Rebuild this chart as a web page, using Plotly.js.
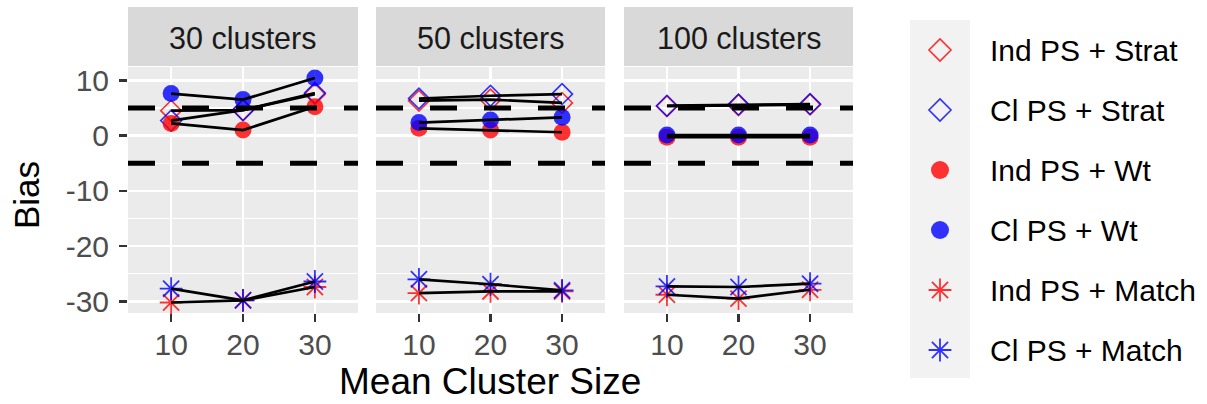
<!DOCTYPE html>
<html>
<head>
<meta charset="utf-8">
<script src="https://cdn.plot.ly/plotly-3.0.1.min.js"></script>
<style>html,body{margin:0;padding:0;background:#fff;}#chart{width:1207px;height:404px;}</style>
</head>
<body>
<div id="chart"></div>
<script>
// ---- data ----
const clusterSizes = ['10', '20', '30'];
const panelLabels = ['30 clusters', '50 clusters', '100 clusters'];
const seriesNames = ['Ind PS + Strat', 'Cl PS + Strat', 'Ind PS + Wt', 'Cl PS + Wt', 'Ind PS + Match', 'Cl PS + Match'];
// one row per panel (30, 50, 100 clusters), values at mean cluster size 10, 20, 30
const indPsStrat = [[4.5, 4.6, 7.5], [6.3, 6.5, 5.9], [5.3, 5.5, 5.6]];
const clPsStrat  = [[2.7, 4.6, 7.7], [6.7, 7.2, 7.5], [5.4, 5.6, 5.7]];
const indPsWt    = [[2.2, 1.0, 5.2], [1.3, 1.0, 0.6], [-0.3, -0.3, -0.3]];
const clPsWt     = [[7.6, 6.5, 10.4], [2.35, 2.8, 3.3], [0.1, 0.1, 0.1]];
const indPsMatch = [[-30.2, -29.8, -27.4], [-28.5, -28.2, -28.2], [-28.8, -29.5, -27.9]];
const clPsMatch  = [[-27.7, -29.8, -26.4], [-26.0, -26.9, -28.0], [-27.3, -27.4, -26.8]];
const refLines = [5, -5];
const yTicks = [-30, -20, -10, 0, 10];
const yMinorTicks = [-25, -15, -5, 5];

const seriesValues = [indPsStrat, clPsStrat, indPsWt, clPsWt, indPsMatch, clPsMatch];

// ---- styles ----
const RED = 'rgba(255,0,0,0.8)';
const BLUE = 'rgba(0,0,255,0.8)';
const styles = [
  {symbol: 'diamond-open', color: RED, size: 16, lw: 1.6},
  {symbol: 'diamond-open', color: BLUE, size: 16, lw: 1.6},
  {symbol: 'circle', color: RED, size: 17, lw: 0},
  {symbol: 'circle', color: BLUE, size: 17, lw: 0},
  {symbol: 'asterisk-open', color: RED, size: 19, lw: 1.8},
  {symbol: 'asterisk-open', color: BLUE, size: 19, lw: 1.8}
];
const legendStyles = [
  {size: 17}, {size: 17}, {size: 18}, {size: 18}, {size: 19}, {size: 19}
];

const W = 1207, H = 404;
const px = v => v / W;
const py = v => 1 - v / H;
const panelX = [[128, 358], [376, 605], [624, 853]];
const panelTop = 67, panelBottom = 313;

const xAxisNames = ['x', 'x2', 'x3'];
const traces = [];
// markers
for (let p = 0; p < 3; p++) {
  for (let s = 0; s < seriesNames.length; s++) {
    const st = styles[s];
    traces.push({
      type: 'scatter', mode: 'markers',
      x: clusterSizes, y: seriesValues[s][p],
      xaxis: xAxisNames[p], yaxis: 'y',
      marker: {symbol: st.symbol, size: st.size, color: st.color,
               line: {color: st.color, width: st.lw}},
      showlegend: false, hoverinfo: 'skip', cliponaxis: false
    });
  }
}
// connecting lines
for (let p = 0; p < 3; p++) {
  for (let s = 0; s < seriesNames.length; s++) {
    traces.push({
      type: 'scatter', mode: 'lines',
      x: clusterSizes, y: seriesValues[s][p],
      xaxis: xAxisNames[p], yaxis: 'y',
      line: {color: 'black', width: 2.7},
      showlegend: false, hoverinfo: 'skip'
    });
  }
}
// custom legend keys
for (let s = 0; s < seriesNames.length; s++) {
  const st = styles[s];
  traces.push({
    type: 'scatter', mode: 'markers',
    x: [0], y: [seriesNames.length - 1 - s],
    xaxis: 'x4', yaxis: 'y4',
    marker: {symbol: st.symbol, size: legendStyles[s].size, color: st.color,
             line: {color: st.color, width: st.lw}},
    showlegend: false, hoverinfo: 'skip', cliponaxis: false
  });
}

const FONT = 'Liberation Sans, Arial, sans-serif';
const xAxisBase = (p) => ({
  domain: [px(panelX[p][0]), px(panelX[p][1])],
  anchor: 'y',
  type: 'category',
  categoryorder: 'array', categoryarray: clusterSizes,
  range: [-0.6, 2.6],
  showgrid: true, gridcolor: '#ffffff', gridwidth: 2.5,
  zeroline: false, showline: false,
  ticks: 'outside', ticklen: 8, tickwidth: 2.5, tickcolor: '#333333',
  tickfont: {family: FONT, size: 30, color: '#4d4d4d'},
  ticklabelstandoff: -3,
  fixedrange: true
});

const shapes = [];
const annotations = [];
for (let p = 0; p < 3; p++) {
  const xd = (p === 0 ? 'x' : 'x' + (p + 1)) + ' domain';
  shapes.push({type: 'rect', xref: 'paper', yref: 'paper',
    x0: px(panelX[p][0]), x1: px(panelX[p][1]), y0: py(panelBottom), y1: py(panelTop),
    fillcolor: '#ebebeb', line: {width: 0}, layer: 'below'});
  shapes.push({type: 'rect', xref: 'paper', yref: 'paper',
    x0: px(panelX[p][0]), x1: px(panelX[p][1]), y0: py(66), y1: py(7),
    fillcolor: '#d9d9d9', line: {width: 0}, layer: 'below'});
  for (const r of refLines) {
    shapes.push({type: 'line', xref: xd, yref: 'y', x0: 0, x1: 1, y0: r, y1: r,
      line: {color: 'black', width: 5, dash: '27px,27px'}, layer: 'above'});
  }
  annotations.push({xref: 'paper', yref: 'paper', x: (px(panelX[p][0]) + px(panelX[p][1])) / 2, y: py(38),
    xanchor: 'center', yanchor: 'middle', showarrow: false, text: panelLabels[p],
    font: {family: FONT, size: 30.5, color: '#1a1a1a'}});
}
// legend key background
shapes.push({type: 'rect', xref: 'paper', yref: 'paper', x0: px(910), x1: px(970), y0: py(378), y1: py(20),
  fillcolor: '#f2f2f2', line: {width: 0}, layer: 'below'});
for (let s = 0; s < seriesNames.length; s++) {
  annotations.push({xref: 'paper', yref: 'y4', x: px(988), y: seriesNames.length - 1 - s,
    xanchor: 'left', yanchor: 'middle', showarrow: false, text: seriesNames[s],
    font: {family: FONT, size: 30, color: '#000000'}});
}
// axis titles
annotations.push({xref: 'paper', yref: 'paper', x: px(490), y: 0, xanchor: 'center', yanchor: 'bottom',
  showarrow: false, text: 'Mean Cluster Size', font: {family: FONT, size: 37, color: '#000000'}});
annotations.push({xref: 'paper', yref: 'paper', x: px(26), y: py(195), xanchor: 'center', yanchor: 'middle',
  showarrow: false, text: 'Bias', textangle: -90, font: {family: FONT, size: 35, color: '#000000'}});

const layout = {
  width: W, height: H,
  margin: {l: 0, r: 0, t: 0, b: 0, pad: 0},
  paper_bgcolor: '#ffffff', plot_bgcolor: 'rgba(0,0,0,0)',
  showlegend: false,
  font: {family: FONT},
  xaxis: xAxisBase(0),
  xaxis2: xAxisBase(1),
  xaxis3: xAxisBase(2),
  yaxis: {
    domain: [py(panelBottom), py(panelTop)],
    anchor: 'x',
    range: [-32.1, 12.4],
    tickvals: yTicks, ticktext: yTicks.map(String),
    showgrid: true, gridcolor: '#ffffff', gridwidth: 2.5,
    minor: {tickvals: yMinorTicks, showgrid: true, gridcolor: '#ffffff', gridwidth: 1.3, ticks: ''},
    zeroline: false, showline: false,
    ticks: 'outside', ticklen: 8, tickwidth: 2.5, tickcolor: '#333333',
    tickfont: {family: FONT, size: 30, color: '#4d4d4d'},
    ticklabelstandoff: 4,
    fixedrange: true
  },
  xaxis4: {domain: [px(910), px(970)], anchor: 'y4', range: [-1, 1], visible: false, fixedrange: true},
  yaxis4: {domain: [py(378), py(20)], anchor: 'x4', range: [-0.4667, 5.5], visible: false, fixedrange: true},
  shapes: shapes,
  annotations: annotations
};

Plotly.newPlot('chart', traces, layout, {staticPlot: true, displayModeBar: false});
</script>
</body>
</html>
